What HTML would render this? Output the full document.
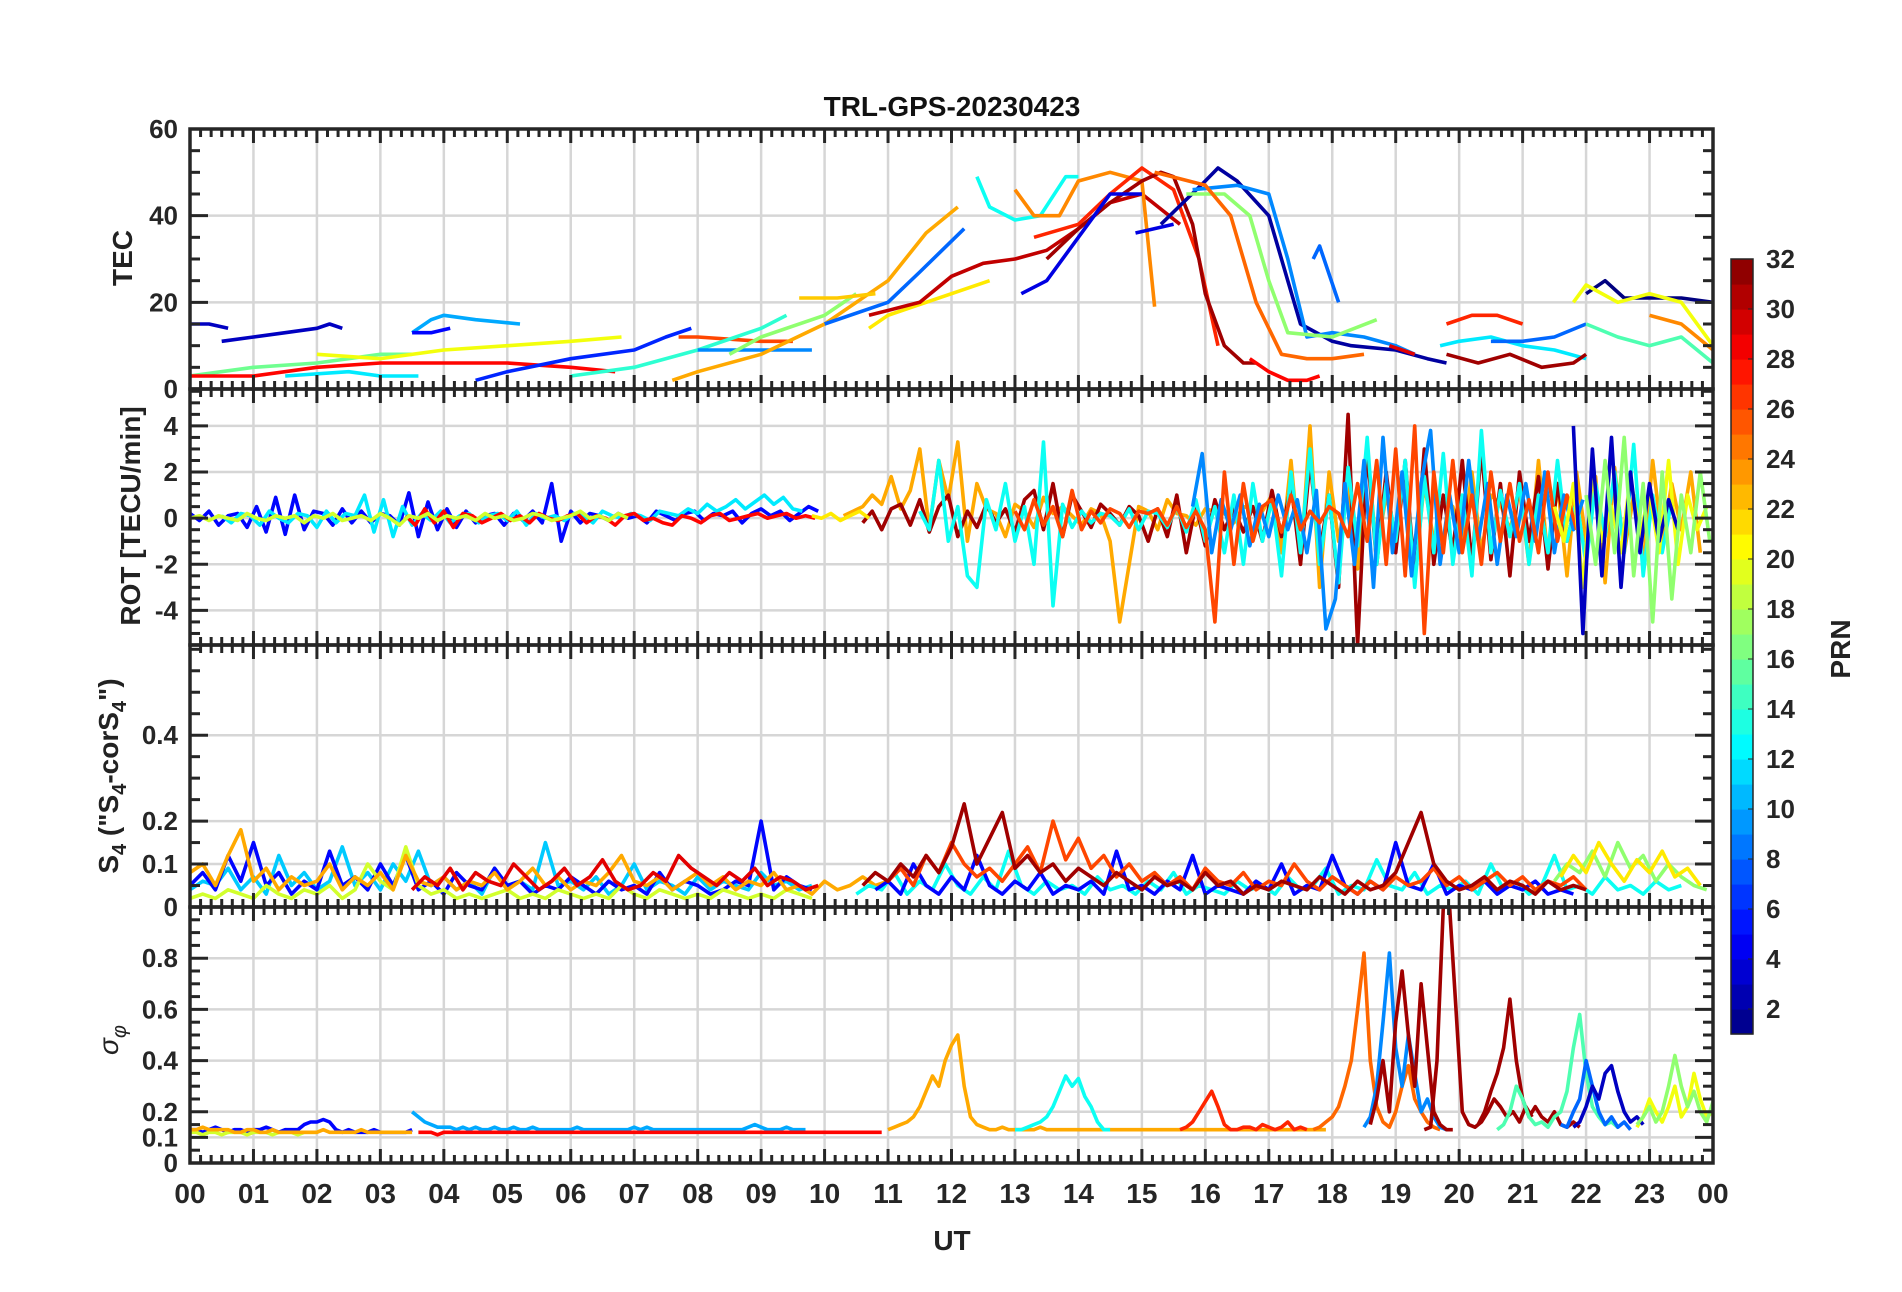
<!DOCTYPE html>
<html><head><meta charset="utf-8"><style>
html,body{margin:0;padding:0;background:#fff;}
svg{display:block;font-family:"Liberation Sans",sans-serif;}
</style></head><body>
<svg id="chart" width="1902" height="1292" viewBox="0 0 1902 1292" xmlns="http://www.w3.org/2000/svg">
<rect width="1902" height="1292" fill="#fff"/>
<text x="952" y="116" text-anchor="middle" font-size="28" font-weight="bold" fill="#111">TRL-GPS-20230423</text>
<g id="grid"></g><g id="series"></g><g id="frame"></g>
<text x="952" y="1250" text-anchor="middle" font-size="28" font-weight="bold" fill="#222">UT</text>
<text transform="translate(132,258) rotate(-90)" text-anchor="middle" font-size="28" font-weight="bold" fill="#222">TEC</text>
<text transform="translate(140,516) rotate(-90)" text-anchor="middle" font-size="28" font-weight="bold" fill="#222">ROT [TECU/min]</text>
<text transform="translate(118,776) rotate(-90)" text-anchor="middle" font-size="28" font-weight="bold" fill="#222">S<tspan font-size="20" dy="8">4</tspan><tspan dy="-8"> ("S</tspan><tspan font-size="20" dy="8">4</tspan><tspan dy="-8">-corS</tspan><tspan font-size="20" dy="8">4</tspan><tspan dy="-8">")</tspan></text>
<text transform="translate(118,1040) rotate(-90)" text-anchor="middle" font-size="28" font-style="italic" fill="#222">σ<tspan font-size="20" dy="8">φ</tspan></text>
<g id="cbar"></g>
<text transform="translate(1850,649) rotate(-90)" text-anchor="middle" font-size="28" font-weight="bold" fill="#222">PRN</text>
</svg>
<script>
// ---------- data ----------
const hourLabels = ["00","01","02","03","04","05","06","07","08","09","10","11","12","13","14","15","16","17","18","19","20","21","22","23","00"];
const tecTicks = [0,20,40,60];
const rotTicks = [-4,-2,0,2,4];
const s4Ticks = [0,0.1,0.2,0.4];
const sigTicks = [0,0.1,0.2,0.4,0.6,0.8];
const prnTicks = [2,4,6,8,10,12,14,16,18,20,22,24,26,28,30,32];

const tecPrn = [3,3,10,5,16,20,28,6,12,26,14,9,23,17,8,22,21,30,13,24,27,31,4,4,2,9,17,25,28,8,12,27,31,8,1,20,15,24,29];
const tecT = [
[0,0.3,0.6],[0.5,1,1.5,2,2.2,2.4],[3.5,3.8,4,4.5,5.2],[3.5,3.8,4.1],
[0,1,2,3,3.5],[2,3,4,5,6,6.8],[0,1,2,3,4,5,6,6.7],[4.5,5,6,7,7.5,7.9],[1.5,2.5,3,3.6],
[7.7,8,9,9.5],[6,7,8,9,9.4],[8,9,9.8],[7.6,8,9,10,11,11.6,12.1],[8.5,9,10,10.5],[10,11,11.5,12.2],
[9.6,10.2,10.8],[10.7,11,12,12.6],[10.7,11.5,12,12.5,13,13.5,14,14.5,15,15.6],
[12.4,12.6,13,13.4,13.8,14],[13,13.3,13.7,14,14.5,15,15.2],[13.3,14,14.5,15,15.5,15.9,16.2],
[13.5,14,14.5,15,15.3,15.5,15.8,16,16.3,16.6,16.8],[13.1,13.5,14,14.5,15],[14.9,15.5],
[15.3,16,16.2,16.5,17,17.3,17.5,18,18.3,19,19.5,19.8],[15.8,16.5,17,17.3,17.6,18,18.5,19,19.3],
[15.7,16.3,16.7,17,17.3,18,18.7],[15.2,16,16.4,16.8,17.2,17.6,18,18.5],[16.7,17,17.3,17.6,17.8],
[17.7,17.8,18.1],[19.7,20,20.5,21,21.5,22],[19.8,20.2,20.6,21],[19.8,20.3,20.8,21.3,21.8,22],
[20.5,21,21.5,22],[22,22.3,22.6,23,23.5,24],[21.8,22,22.5,23,23.5,24],[22,22.5,23,23.5,24],[23,23.5,24],[18.9,19.3]];
const tecV = [
[15,15,14],[11,12,13,14,15,14],[13,16,17,16,15],[13,13,14],
[3,5,6,8,8],[8,7,9,10,11,12],[3,3,5,6,6,6,5,4],[2,4,7,9,12,14],[3,4,3,3],
[12,12,11,11],[3,5,9,14,17],[9,9,9],[2,4,8,15,25,36,42],[8,12,17,22],[15,20,27,37],
[21,21,22],[14,17,22,25],[17,20,26,29,30,32,37,43,45,38],
[49,42,39,40,49,49],[46,40,40,48,50,48,19],[35,38,45,51,46,30,10],
[30,37,43,48,50,49,38,22,10,6,6],[22,25,35,45,45],[36,38],
[38,48,51,48,40,25,15,11,10,9,7,6],[46,47,45,30,12,13,12,10,8],
[45,45,40,25,13,12,16],[50,47,40,20,8,7,7,8],[7,4,2,2,3],
[30,33,20],[10,11,12,10,9,7],[15,17,17,15],[8,6,8,5,6,8],
[11,11,12,15],[22,25,21,21,21,20],[20,24,20,22,20,10],[15,12,10,12,6],[17,15,9],[10,8]];

const rotPrn = [5,12,28,19,23,31,13,9,26,20,3,17,21];
const rotStart = [0,0.5,3.4,0,10.3,10.6,11.5,15.8,13,21.5,21.8,22,9.8];
const rotStep = 0.15;
const rotV = [
[0.2,-0.1,0.3,-0.3,0.1,0.2,-0.4,0.5,-0.6,0.9,-0.7,1.0,-0.5,0.3,0.2,-0.3,0.4,-0.2,0.3,-0.2,0.2,0.1,-0.3,1.1,-0.8,0.7,-0.5,0.4,-0.4,0.3,-0.2,0.1,0.2,-0.3,0.2,-0.1,0.3,-0.2,1.5,-1.0,0.3,-0.2,0.2,0.1,-0.1,0.2,0.0,0.1,-0.2,0.3,0.1,-0.1,0.2,0.3,-0.1,0.2,0.1,0.3,-0.2,0.2,0.4,0.1,0.3,-0.1,0.2,0.5,0.3],
[0.1,-0.2,0.2,0.1,-0.3,0.3,0.0,-0.2,0.2,0.1,-0.4,0.3,-0.2,0.2,0.1,1.0,-0.6,0.8,-0.8,0.5,-0.3,0.2,-0.1,0.3,-0.2,0.1,0.2,-0.2,0.1,0.2,-0.1,0.3,-0.3,0.2,0.0,0.1,-0.1,0.2,0.1,-0.2,0.3,0.1,0.0,0.2,0.1,-0.1,0.3,0.2,0.1,0.4,0.2,0.6,0.3,0.5,0.8,0.4,0.7,1.0,0.6,0.9,0.4,0.3],
[0.1,-0.3,0.4,-0.2,0.3,-0.4,0.2,0.1,-0.2,0.0,0.2,-0.1,0.1,-0.2,0.2,0.0,-0.1,0.1,0.2,-0.2,0.1,0.0,-0.3,0.1,0.2,-0.1,0.0,-0.2,-0.3,0.1,0.0,-0.2,0.1,0.2,-0.1,0.0,0.1,0.2,0.0,0.1,0.2,0.0,0.1,0.0],
[0.0,0.1,-0.1,0.1,0.0,-0.1,0.2,0.0,-0.1,0.1,0.0,0.1,-0.2,0.1,0.0,0.2,-0.1,0.0,0.1,-0.1,0.2,0.0,-0.3,0.1,0.0,0.2,-0.1,0.1,0.0,0.1,-0.1,0.2,0.0,0.1,-0.1,0.0,0.2,0.1,-0.1,0.0,0.1,0.3,0.0,0.1,-0.1,0.2,0.0],
[0.1,0.3,0.5,1.0,0.6,1.8,0.4,1.2,3.0,-0.5,2.5,0.8,3.3,-1.0,1.5,0.4,0.2,-0.8,0.6,0.3,-0.4,0.9,0.2,0.5,0.1,-0.3,0.4,0.2,-1.0,-4.5,-2.0,0.5,0.3,-0.5,0.8,0.2,0.1,-0.3,0.4,0.3,0.2,-0.2,0.5,0.4,0.3,1.0,-1.5,2.5,-2.0,4.0,-3.0,2.0,-1.0,1.5,-2.2,3.0,-1.5,1.0,-0.8,2.0,-2.5,1.5,-1.0,0.8,0.5,-1.2,2.0,-1.5,1.0,0.6,-0.5,1.2,-2.0,2.5,-1.8,1.5,-2.5,2.0,-1.0,1.8,-2.8,2.2,-1.5,1.0,-2.0,2.5,-1.0,1.5,-0.5,2.0,-1.5],
[-0.2,0.3,-0.5,0.4,0.6,-0.3,0.8,-0.6,0.5,1.0,-0.8,0.3,-0.4,0.6,-0.2,0.4,-0.6,0.8,1.2,-0.5,1.5,-0.8,1.0,0.3,-0.4,0.6,0.2,-0.3,0.5,0.1,-1.0,0.4,-0.8,1.0,-1.5,0.6,-1.2,0.8,-0.5,0.4,-0.6,0.5,-1.0,1.2,-0.8,1.5,-2.0,2.5,-1.5,1.0,-3.0,4.5,-5.5,3.0,-2.0,2.0,-1.5,2.5,-2.5,3.0,-2.0,1.0,-1.5,2.5,-2.0,3.0,-1.8,1.5,-2.5,2.0,-1.0,1.8,-2.2,1.5,-1.0,0.8],
[0.3,-0.5,2.5,-1.0,0.5,-2.5,-3.0,0.8,-0.5,1.5,-1.0,0.5,-2.0,3.3,-3.8,0.6,-0.4,0.3,-0.2,0.2,0.1,-0.3,0.4,-0.5,0.3,0.2,-0.4,0.5,-0.6,0.8,-1.0,0.5,-1.5,1.0,-2.0,1.5,-1.0,0.8,-2.5,2.0,-1.5,3.0,-2.0,1.0,-2.8,2.2,-1.2,3.5,-2.0,1.5,-1.0,2.5,-3.0,1.8,-1.5,2.8,-2.0,1.0,-2.5,3.8,-1.5,1.2,-0.8,1.5,-2.0,1.0,-1.5,2.5,-1.0,0.8,-2.0,1.5,-0.8,2.0,-1.5,3.2,-2.5,1.0,-1.5,0.8],
[0.5,2.8,-1.5,0.8,-0.5,1.0,-1.2,0.6,-0.8,1.0,-0.5,0.8,-1.5,1.2,-4.8,-3.5,1.5,-2.0,2.5,-3.0,3.5,-1.5,2.0,-2.5,1.5,3.8,-2.0,1.0,-1.5,2.5,-1.0,1.5,-2.0,1.0,-0.8,1.5,-1.0,2.0,-1.5,1.0,-0.5,0.8],
[0.3,-0.5,0.8,-0.3,0.5,-0.8,1.2,-0.5,0.3,-0.2,0.4,0.2,-0.4,0.3,0.2,0.4,-0.3,0.5,-0.4,0.3,-0.5,-4.5,2.0,-2.0,1.5,-1.0,0.5,0.8,-0.6,1.0,-0.5,0.3,-0.2,0.5,0.2,-0.8,1.5,-1.0,2.5,-2.0,3.0,-2.5,4.0,-5.0,2.0,-1.5,2.5,-1.5,1.0,-2.0,2.0,-1.0,1.5,-1.0,0.8,-1.5,2.0,-1.0,1.0,-0.5],
[0.5,-1.0,1.5,-3.0,2.0,-1.0,0.5,-1.5,1.8,-0.8,1.2,-1.5,2.5,-2.0,1.0,-0.5,0.5],
[4.0,-5.0,3.0,-2.5,3.5,-3.0,2.0,-1.5,1.5,-1.0,0.8,-0.5],
[1.0,-2.0,2.5,-1.5,3.5,-2.5,1.5,-4.5,2.0,-3.5,1.0,-1.5,2.0,-1.0],
[0.1,0.0,0.2,-0.1,0.1,0.3,0.0]];

const s4Prn = [11,5,19,23,29,13,5,17,26,31,21];
const s4Start = [0,0,0,0,3.5,10.5,10.8,21.5,11,10.6,21.6];
const s4Step = 0.2;
const s4V = [
[0.04,0.06,0.05,0.09,0.04,0.07,0.03,0.12,0.05,0.08,0.04,0.06,0.14,0.05,0.08,0.04,0.10,0.06,0.13,0.05,0.07,0.04,0.06,0.03,0.09,0.05,0.06,0.04,0.15,0.05,0.06,0.04,0.07,0.03,0.05,0.10,0.04,0.06,0.05,0.03,0.07,0.04,0.06,0.05,0.04,0.08,0.05,0.06,0.04,0.05],
[0.05,0.08,0.04,0.12,0.06,0.15,0.05,0.08,0.03,0.06,0.04,0.13,0.05,0.07,0.04,0.10,0.05,0.12,0.04,0.06,0.03,0.08,0.05,0.04,0.09,0.05,0.06,0.03,0.05,0.04,0.07,0.05,0.03,0.06,0.04,0.05,0.03,0.08,0.04,0.06,0.05,0.03,0.04,0.06,0.05,0.20,0.04,0.07,0.05,0.04],
[0.02,0.03,0.02,0.04,0.03,0.02,0.05,0.03,0.02,0.04,0.03,0.05,0.02,0.04,0.10,0.06,0.04,0.14,0.05,0.03,0.04,0.02,0.03,0.02,0.03,0.04,0.02,0.03,0.02,0.04,0.03,0.02,0.03,0.02,0.05,0.03,0.02,0.04,0.03,0.02,0.03,0.02,0.04,0.03,0.02,0.03,0.02,0.04,0.03,0.02],
[0.08,0.10,0.05,0.12,0.18,0.06,0.09,0.04,0.07,0.05,0.06,0.10,0.04,0.07,0.05,0.08,0.04,0.12,0.06,0.05,0.07,0.04,0.06,0.05,0.08,0.04,0.06,0.09,0.05,0.07,0.04,0.06,0.05,0.08,0.12,0.06,0.05,0.07,0.04,0.06,0.08,0.05,0.07,0.04,0.06,0.05,0.08,0.04,0.05,0.03,0.06,0.04,0.05,0.07,0.05,0.06],
[0.04,0.07,0.05,0.09,0.04,0.08,0.06,0.05,0.10,0.07,0.04,0.06,0.09,0.05,0.07,0.11,0.06,0.04,0.05,0.08,0.06,0.12,0.09,0.07,0.05,0.08,0.06,0.09,0.05,0.07,0.06,0.04,0.05],
[0.03,0.05,0.04,0.08,0.03,0.06,0.04,0.10,0.05,0.03,0.07,0.04,0.13,0.05,0.03,0.06,0.04,0.05,0.03,0.07,0.04,0.05,0.03,0.06,0.04,0.08,0.03,0.05,0.04,0.03,0.06,0.04,0.05,0.03,0.07,0.04,0.05,0.09,0.03,0.05,0.04,0.11,0.05,0.04,0.08,0.03,0.05,0.04,0.06,0.03,0.10,0.04,0.06,0.03,0.05,0.12,0.04,0.05,0.03,0.07,0.04,0.05,0.03,0.06,0.04,0.05],
[0.04,0.06,0.03,0.10,0.05,0.03,0.07,0.04,0.12,0.05,0.03,0.06,0.04,0.08,0.03,0.05,0.04,0.06,0.03,0.13,0.04,0.05,0.03,0.06,0.04,0.12,0.03,0.05,0.04,0.03,0.06,0.04,0.10,0.03,0.05,0.04,0.12,0.05,0.03,0.06,0.04,0.15,0.05,0.04,0.10,0.03,0.05,0.04,0.06,0.03,0.05,0.04,0.06,0.03,0.04,0.03],
[0.06,0.10,0.08,0.13,0.07,0.15,0.09,0.12,0.06,0.10,0.07,0.05,0.04],
[0.06,0.09,0.05,0.12,0.08,0.15,0.10,0.07,0.09,0.06,0.10,0.14,0.08,0.20,0.11,0.16,0.09,0.12,0.07,0.10,0.06,0.08,0.05,0.07,0.04,0.09,0.06,0.05,0.08,0.04,0.06,0.05,0.10,0.06,0.04,0.07,0.05,0.03,0.06,0.04,0.07,0.05,0.06,0.09,0.05,0.07,0.04,0.06,0.08,0.05,0.07,0.04,0.06,0.05,0.07,0.04],
[0.05,0.08,0.06,0.10,0.07,0.12,0.08,0.14,0.24,0.10,0.16,0.22,0.09,0.12,0.08,0.10,0.06,0.09,0.07,0.05,0.08,0.06,0.04,0.07,0.05,0.06,0.04,0.08,0.05,0.06,0.03,0.05,0.04,0.06,0.05,0.04,0.07,0.05,0.03,0.06,0.04,0.05,0.08,0.15,0.22,0.10,0.06,0.04,0.05,0.07,0.04,0.06,0.05,0.03,0.06,0.04,0.05,0.04],
[0.07,0.12,0.08,0.15,0.10,0.06,0.11,0.08,0.13,0.07,0.09,0.05]];

const sigPrn = [5,19,23,10,28,23,13,27,25,9,31,31,31,15,8,20,3,17];
const sigStart = [0,0,0,3.5,3.6,11,13,15.6,17.7,18.5,18.6,19.45,20.3,20.6,21.6,22.8,21.8,22.8];
const sigStep = 0.1;
const sigV = [
[0.13,0.13,0.12,0.13,0.14,0.13,0.12,0.13,0.13,0.12,0.13,0.13,0.14,0.13,0.12,0.13,0.13,0.13,0.15,0.16,0.16,0.17,0.16,0.13,0.12,0.13,0.12,0.12,0.12,0.13,0.12,0.12,0.12,0.12,0.12,0.13],
[0.12,0.12,0.11,0.12,0.12,0.11,0.12,0.12,0.12,0.11,0.12,0.12,0.12,0.11,0.12,0.12,0.12,0.11,0.12,0.12,0.12],
[0.13,0.13,0.14,0.13,0.13,0.13,0.13,0.12,0.12,0.13,0.13,0.12,0.12,0.13,0.12,0.12,0.12,0.12,0.12,0.12,0.12,0.13,0.12,0.12,0.12,0.12,0.12,0.13,0.12,0.12,0.12,0.12,0.12,0.12,0.12,0.12],
[0.20,0.18,0.16,0.15,0.14,0.14,0.14,0.13,0.14,0.13,0.14,0.13,0.13,0.14,0.13,0.13,0.14,0.13,0.13,0.14,0.13,0.13,0.13,0.13,0.13,0.13,0.14,0.13,0.13,0.13,0.13,0.13,0.13,0.13,0.13,0.14,0.13,0.14,0.13,0.13,0.13,0.13,0.13,0.13,0.13,0.13,0.13,0.13,0.13,0.13,0.13,0.13,0.13,0.14,0.15,0.14,0.13,0.13,0.13,0.14,0.13,0.13,0.13],
[0.12,0.12,0.12,0.11,0.12,0.12,0.12,0.12,0.12,0.12,0.12,0.12,0.12,0.12,0.12,0.12,0.12,0.12,0.12,0.12,0.12,0.12,0.12,0.12,0.12,0.12,0.12,0.12,0.12,0.12,0.12,0.12,0.12,0.12,0.12,0.12,0.12,0.12,0.12,0.12,0.12,0.12,0.12,0.12,0.12,0.12,0.12,0.12,0.12,0.12,0.12,0.12,0.12,0.12,0.12,0.12,0.12,0.12,0.12,0.12,0.12,0.12,0.12,0.12,0.12,0.12,0.12,0.12,0.12,0.12,0.12,0.12,0.12,0.12],
[0.13,0.14,0.15,0.16,0.18,0.22,0.28,0.34,0.30,0.40,0.46,0.50,0.30,0.18,0.15,0.14,0.13,0.13,0.14,0.13,0.13,0.13,0.13,0.13,0.14,0.13,0.13,0.13,0.13,0.13,0.13,0.13,0.13,0.13,0.13,0.13,0.13,0.13,0.13,0.13,0.13,0.13,0.13,0.13,0.13,0.13,0.13,0.13,0.13,0.13,0.13,0.13,0.13,0.13,0.13,0.13,0.13,0.13,0.13,0.13,0.13,0.13,0.13,0.13,0.13,0.13,0.13,0.13,0.13,0.13],
[0.13,0.13,0.14,0.15,0.16,0.18,0.22,0.28,0.34,0.30,0.33,0.26,0.22,0.16,0.13,0.13],
[0.13,0.14,0.16,0.20,0.24,0.28,0.22,0.15,0.13,0.13,0.14,0.14,0.13,0.15,0.14,0.13,0.14,0.16,0.13,0.14,0.13],
[0.13,0.14,0.16,0.18,0.22,0.30,0.40,0.60,0.82,0.40,0.22,0.16,0.14,0.20,0.30,0.38,0.25,0.20,0.16,0.14,0.13],
[0.14,0.18,0.30,0.55,0.82,0.45,0.30,0.50,0.35,0.20,0.25,0.18,0.14,0.13],
[0.15,0.25,0.40,0.20,0.55,0.75,0.50,0.30,0.70,0.45,0.20,0.15,0.13,0.13],
[0.13,0.14,0.40,1.00,1.00,0.60,0.20,0.15,0.14,0.16,0.20,0.25,0.22,0.18,0.20,0.16,0.22,0.18],
[0.15,0.20,0.28,0.35,0.45,0.64,0.40,0.25,0.18,0.22,0.18,0.16,0.20,0.15,0.14,0.16,0.14],
[0.13,0.15,0.20,0.30,0.25,0.18,0.15,0.16,0.14,0.18,0.20,0.28,0.45,0.58,0.35,0.22,0.18,0.15,0.16,0.14],
[0.15,0.14,0.20,0.25,0.40,0.30,0.20,0.15,0.18,0.14,0.16,0.13],
[0.14,0.18,0.25,0.20,0.16,0.22,0.30,0.18,0.22,0.35,0.25,0.18,0.20,0.15,0.18,0.22,0.20,0.16,0.15,0.14],
[0.14,0.16,0.22,0.30,0.25,0.35,0.38,0.28,0.20,0.16,0.18,0.15],
[0.15,0.18,0.22,0.16,0.20,0.30,0.42,0.30,0.22,0.28,0.20,0.16,0.24,0.18,0.15,0.20,0.22,0.18,0.16,0.15]];

// ---------- layout ----------
const X0 = 190, X1 = 1713;
const panels = [
 {name:"tec", top:129, bot:389, min:0, max:60, ticks:tecTicks, minor:5, labels:["0","20","40","60"]},
 {name:"rot", top:389, bot:645, min:-5.5, max:5.6, ticks:rotTicks, minor:0.5, labels:["-4","-2","0","2","4"]},
 {name:"s4", top:645, bot:907, min:0, max:0.61, ticks:s4Ticks, minor:0.05, labels:["0","0.1","0.2","0.4"]},
 {name:"sigma", top:907, bot:1163, min:0, max:1.0, ticks:sigTicks, minor:0.05, labels:["0","0.1","0.2","0.4","0.6","0.8"]}
];
const NS = "http://www.w3.org/2000/svg";
function xs(t){ return X0 + (t/24)*(X1-X0); }
function ys(p,v){ return p.bot - (v-p.min)/(p.max-p.min)*(p.bot-p.top); }
function mk(tag, attrs, parent){ const e=document.createElementNS(NS,tag); for(const k in attrs) e.setAttribute(k,attrs[k]); parent.appendChild(e); return e; }
function jet(prn){
  const v=(prn-1)/31;
  const c=x=>Math.round(255*Math.max(0,Math.min(1,x)));
  return "rgb("+c(1.5-Math.abs(4*v-3))+","+c(1.5-Math.abs(4*v-2))+","+c(1.5-Math.abs(4*v-1))+")";
}
const G = document.getElementById("grid"), S = document.getElementById("series"), F = document.getElementById("frame"), CB = document.getElementById("cbar");

panels.forEach(p=>{
  for(let h=1;h<24;h++){
    const l = mk("line",{x1:xs(h),x2:xs(h),y1:p.top,y2:p.bot,stroke:"#d6d6d6","stroke-width":2.5},G);
    
    
  }
  p.ticks.forEach(v=>{
    const l = mk("line",{x1:X0,x2:X1,y1:ys(p,v),y2:ys(p,v),stroke:"#d6d6d6","stroke-width":2.5},G);
    
    
  });
});

function clipFor(p){
  const id="clip-"+p.name;
  const d=mk("clipPath",{id:id},S);
  mk("rect",{x:X0,y:p.top,width:X1-X0,height:p.bot-p.top},d);
  return "url(#"+id+")";
}
function drawLine(p, ts, vs, prn, name){
  const pts = ts.map((t,i)=>xs(t).toFixed(1)+","+ys(p,vs[i]).toFixed(1)).join(" ");
  const pl = mk("polyline",{points:pts,fill:"none",stroke:jet(prn),"stroke-width":3.6,"stroke-linejoin":"round","clip-path":p.clip},S);
  
  
}
panels.forEach(p=>{ p.clip = clipFor(p); });

tecPrn.forEach((prn,i)=> drawLine(panels[0], tecT[i], tecV[i], prn, "tec-track-prn"+prn));
rotPrn.forEach((prn,i)=> drawLine(panels[1], rotV[i].map((_,k)=>rotStart[i]+k*rotStep), rotV[i], prn, "rot-series-prn"+prn));
s4Prn.forEach((prn,i)=> drawLine(panels[2], s4V[i].map((_,k)=>s4Start[i]+k*s4Step), s4V[i], prn, "s4-series-prn"+prn));
sigPrn.forEach((prn,i)=> drawLine(panels[3], sigV[i].map((_,k)=>sigStart[i]+k*sigStep), sigV[i], prn, "sigma-series-prn"+prn));

panels.forEach((p,pi)=>{
  const r = mk("rect",{x:X0,y:p.top,width:X1-X0,height:p.bot-p.top,fill:"none",stroke:"#262626","stroke-width":3.5},F);
  
  
  for(let m=0;m<=144;m++){
    const x=xs(m/6), L=(m%6===0)?14:8;
    mk("line",{x1:x,x2:x,y1:p.top,y2:p.top+L,stroke:"#262626","stroke-width":3},F);
    mk("line",{x1:x,x2:x,y1:p.bot,y2:p.bot-L,stroke:"#262626","stroke-width":3},F);
  }
  for(let v=Math.ceil(p.min/p.minor)*p.minor; v<=p.max+1e-9; v+=p.minor){
    const y=ys(p,v), major=p.ticks.some(t=>Math.abs(t-v)<1e-6), L=major?18:10;
    mk("line",{x1:X0,x2:X0+L,y1:y,y2:y,stroke:"#262626","stroke-width":3},F);
    mk("line",{x1:X1,x2:X1-L,y1:y,y2:y,stroke:"#262626","stroke-width":3},F);
  }
  p.ticks.forEach((v,k)=>{
    const t = mk("text",{x:178,y:ys(p,v)+9,"text-anchor":"end","font-size":26,"font-weight":"bold",fill:"#262626"},F);
    t.textContent = p.labels[k];
    
    
  });
});
hourLabels.forEach((lab,h)=>{
  const t = mk("text",{x:xs(h),y:1203,"text-anchor":"middle","font-size":28,"font-weight":"bold",fill:"#262626"},F);
  t.textContent = lab;
  
  
});

const CBX=1731, CBW=22, CBT=259, CBB=1034, PMIN=1, PMAX=32;
function cy(v){ return CBB - (v-PMIN)/(PMAX-PMIN)*(CBB-CBT); }
for(let k=1;k<=31;k++){
  const seg = mk("rect",{x:CBX,y:cy(k+1),width:CBW,height:cy(k)-cy(k+1)+0.6,fill:jet(k+0.5)},CB);
  
  
}
const cbf = mk("rect",{x:CBX,y:CBT,width:CBW,height:CBB-CBT,fill:"none",stroke:"#262626","stroke-width":1.5},CB);


prnTicks.forEach(v=>{
  mk("line",{x1:CBX+CBW-5,x2:CBX+CBW,y1:cy(v),y2:cy(v),stroke:"#262626","stroke-width":1},CB);
  const t = mk("text",{x:1766,y:cy(v)+9,"font-size":26,"font-weight":"bold",fill:"#262626"},CB);
  t.textContent = String(v);
  
  
});
</script>
</body></html>
